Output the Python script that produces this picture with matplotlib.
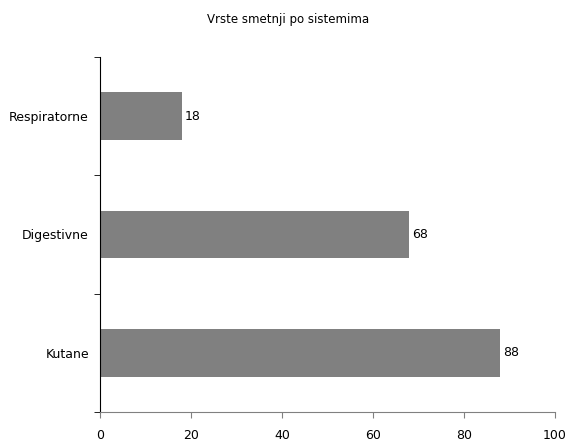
import matplotlib
matplotlib.use("Agg")
import matplotlib.pyplot as plt

# kategorije odozdo prema gore
categories = ["Kutane", "Digestivne", "Respiratorne"]
values = [88, 68, 18]
x_ticks = [0, 20, 40, 60, 80, 100]

plt.rcParams['font.family'] = ['DejaVu Sans']

fig = plt.figure(figsize=(5.69, 4.41), dpi=100)
ax = fig.add_axes([100 / 569, 29 / 441, 455 / 569, 355 / 441])

pos = list(range(len(categories)))
bars = ax.barh(pos, values, height=0.4, color="#808080")
for yi, vi in zip(pos, values):
    ax.text(vi + 0.6, yi, str(vi), va="center", ha="left", fontsize=9)

ax.set_xlim(0, 100)
ax.set_ylim(-0.5, len(categories) - 0.5)
ax.set_xticks(x_ticks)
ax.set_xticklabels([str(t) for t in x_ticks])

# kategorije bez crtica, crtice na granicama
ax.set_yticks(pos)
ax.set_yticklabels(categories)
ax.tick_params(axis="y", length=0, pad=8, labelsize=9)
ax.set_yticks([-0.5, 0.5, 1.5, 2.5], minor=True)
ax.tick_params(axis="y", which="minor", length=4, direction="out", color="black")
ax.tick_params(axis="x", length=4, direction="out", color="#808080", pad=8, labelsize=9)

ax.spines["top"].set_visible(False)
ax.spines["right"].set_visible(False)
ax.spines["left"].set_color("black")
ax.spines["bottom"].set_color("#808080")

fig.text(288 / 569, 1 - 20 / 441, "Vrste smetnji po sistemima", ha="center", va="center", fontsize=8.5)

fig.savefig("out.png", dpi=100)
